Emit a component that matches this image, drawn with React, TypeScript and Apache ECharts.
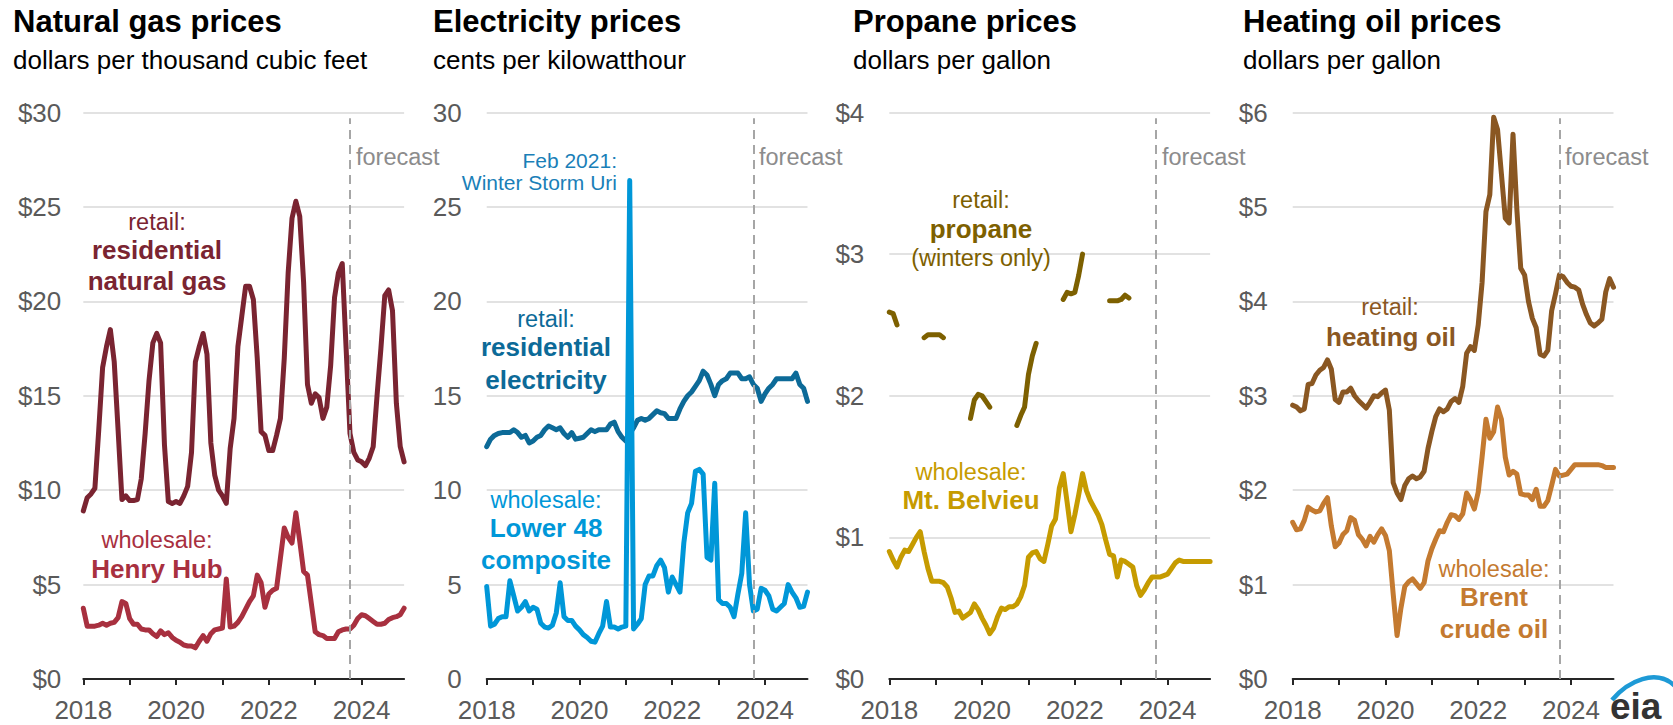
import React, { useEffect, useRef } from "react";
import * as echarts from "echarts";

const START_YEAR = 2018;
const FORECAST_START = 2023.75; // October 2023
const X_MAX = 2018 + 83 / 12;
const YEAR_TICKS = [2018, 2019, 2020, 2021, 2022, 2023, 2024];
const YEAR_LABELS = [2018, 2020, 2022, 2024];

// Natural gas, dollars per thousand cubic feet (monthly, Jan 2018 - Dec 2024)
const natGasResidential = [
  8.9, 9.6, 9.8, 10.1, 13.2, 16.5, 17.6, 18.5, 16.8, 13.2, 9.5, 9.7,
  9.45, 9.45, 9.5, 10.6, 13.0, 15.8, 17.8, 18.3, 17.8, 12.4, 9.4, 9.3,
  9.4, 9.3, 9.7, 10.2, 12.0, 16.8, 17.6, 18.3, 17.2, 12.5, 10.8, 10.0,
  9.7, 9.3, 12.2, 13.8, 17.6, 19.2, 20.8, 20.8, 20.1, 17.0, 13.1, 12.9,
  12.1, 12.1, 12.9, 13.8, 17.0, 21.5, 24.4, 25.3, 24.5, 21.0, 15.6, 14.6,
  15.1, 14.9, 13.8, 14.4, 16.6, 20.2, 21.5, 22.0, 17.5, 13.0, 12.0, 11.6,
  11.5, 11.3, 11.7, 12.3, 15.0, 17.5, 20.3, 20.6, 19.5, 14.6, 12.3, 11.5,
];
const henryHub = [
  3.75, 2.8, 2.8, 2.8, 2.85, 2.95, 2.85, 2.95, 3.0, 3.25, 4.1, 4.0,
  3.2, 2.9, 2.9, 2.65, 2.6, 2.6, 2.4, 2.25, 2.55, 2.35, 2.45, 2.2,
  2.05, 1.95, 1.8, 1.75, 1.75, 1.65, 2.0, 2.3, 2.0, 2.4, 2.6, 2.65,
  2.7, 5.3, 2.75, 2.8, 3.0, 3.3, 3.7, 4.1, 4.4, 5.5, 5.1, 3.8,
  4.5, 4.7, 4.8, 6.4, 8.0, 7.5, 7.2, 8.8, 7.3, 5.7, 5.5, 4.0,
  2.5, 2.35, 2.3, 2.15, 2.15, 2.15, 2.5, 2.6, 2.65, 2.65, 2.85, 3.2,
  3.4, 3.35, 3.2, 3.05, 2.9, 2.9, 2.95, 3.15, 3.25, 3.3, 3.4, 3.75,
];

// Electricity, cents per kilowatthour
const elecResidential = [
  12.3, 12.7, 12.9, 13.0, 13.05, 13.05, 13.05, 13.2, 13.05, 12.8, 12.9, 12.5,
  12.6, 12.8, 12.9, 13.2, 13.4, 13.3, 13.2, 13.3, 13.0, 12.8, 13.05, 12.7,
  12.75, 12.8, 13.0, 13.2, 13.1, 13.2, 13.2, 13.2, 13.5, 13.6, 13.1, 12.8,
  12.6, 13.0, 13.3, 13.7, 13.8, 13.7, 13.8, 14.0, 14.2, 14.1, 14.05, 13.8,
  13.8, 13.8, 14.3, 14.7, 15.0, 15.2, 15.5, 15.8, 16.3, 16.1, 15.6, 15.0,
  15.6, 15.8, 15.9, 16.2, 16.2, 16.2, 15.9, 15.9, 16.0, 15.6, 15.4, 14.7,
  15.1, 15.4, 15.6, 15.9, 15.9, 15.9, 15.9, 15.9, 16.2, 15.6, 15.4, 14.7,
];
const elecWholesale = [
  4.9, 2.8, 2.9, 3.2, 3.3, 3.3, 5.2, 4.4, 3.6, 3.8, 4.1, 3.6,
  3.8, 3.7, 2.95, 2.75, 2.7, 2.85, 3.5, 5.1, 3.3, 3.1, 3.1, 2.8,
  2.6, 2.35, 2.2, 2.0, 1.95, 2.4, 2.8, 4.1, 2.75, 2.75, 2.65, 2.75,
  2.8, 26.4, 2.65, 2.9, 3.2, 5.0, 5.46, 5.46, 6.0, 6.3, 5.9, 4.6,
  5.4, 5.0, 4.6, 7.2, 8.8, 9.3, 11.0, 11.1, 10.85, 6.44, 6.3, 10.36,
  4.2, 4.0, 4.0, 3.8, 3.3, 4.5, 5.6, 8.8, 5.0, 3.6, 3.7, 4.8,
  4.7, 4.4, 3.7, 3.6, 3.8, 4.0, 5.0, 4.6, 4.3, 3.8, 3.85, 4.6,
];

// Propane, dollars per gallon (retail: winters only)
const propaneRetail = [
  2.59, 2.58, 2.5, null, null, null, null, null, null, 2.41, 2.43, 2.43,
  2.43, 2.43, 2.41, null, null, null, null, null, null, 1.84, 1.97, 2.01,
  2.0, 1.96, 1.92, null, null, null, null, null, null, 1.79, 1.86, 1.92,
  2.15, 2.28, 2.37, null, null, null, null, null, null, 2.68, 2.73, 2.72,
  2.73, 2.85, 3.0, null, null, null, null, null, null, 2.67, 2.67, 2.67,
  2.68, 2.71, 2.69, null, null, null, null, null, null, null, null, null,
  null, null, null, null, null, null, null, null, null, null, null, null,
];
const mtBelvieu = [
  0.9, 0.84, 0.79, 0.86, 0.91, 0.9, 0.95, 1.0, 1.04, 0.9, 0.78, 0.69,
  0.69, 0.69, 0.68, 0.65, 0.57, 0.47, 0.48, 0.43, 0.45, 0.47, 0.53, 0.49,
  0.43, 0.38, 0.32, 0.36, 0.44, 0.5, 0.49, 0.51, 0.51, 0.53, 0.58, 0.66,
  0.86, 0.89, 0.9, 0.85, 0.83, 0.95, 1.08, 1.13, 1.35, 1.45, 1.25, 1.04,
  1.16, 1.3, 1.45, 1.33, 1.26, 1.21, 1.16, 1.09, 0.98, 0.88, 0.87, 0.72,
  0.84, 0.83, 0.81, 0.79, 0.66, 0.59, 0.63, 0.68, 0.72, 0.72, 0.72, 0.73,
  0.74, 0.78, 0.82, 0.84, 0.83, 0.83, 0.83, 0.83, 0.83, 0.83, 0.83, 0.83,
];

// Heating oil, dollars per gallon
const heatingOilRetail = [
  2.9, 2.88, 2.84, 2.86, 3.12, 3.13, 3.22, 3.27, 3.3, 3.38, 3.28, 2.96,
  2.93, 3.04, 3.04, 3.08, 3.0, 2.95, 2.91, 2.87, 2.93, 3.0, 2.99, 3.03,
  3.06, 2.85, 2.08, 1.97, 1.9, 2.05, 2.12, 2.15, 2.12, 2.14, 2.2, 2.44,
  2.62, 2.78, 2.86, 2.83, 2.86, 2.94, 2.97, 2.93, 3.1, 3.45, 3.52, 3.48,
  3.75, 4.2, 4.95, 5.13, 5.95, 5.82, 5.35, 4.88, 4.83, 5.77, 4.97, 4.35,
  4.28, 4.0, 3.82, 3.72, 3.44, 3.42, 3.48, 3.9, 4.08, 4.28, 4.26, 4.2,
  4.16, 4.15, 4.12, 3.97, 3.86, 3.77, 3.74, 3.77, 3.81, 4.1, 4.24, 4.15,
];
const brentCrude = [
  1.66, 1.58, 1.59, 1.68, 1.82, 1.79, 1.77, 1.78, 1.86, 1.92, 1.62, 1.4,
  1.44, 1.53, 1.57, 1.71, 1.68, 1.53, 1.48, 1.41, 1.51, 1.45, 1.53, 1.59,
  1.52, 1.36, 0.9, 0.46, 0.75, 0.98, 1.03, 1.06, 1.01, 0.96, 1.02, 1.25,
  1.38, 1.48, 1.57, 1.56, 1.66, 1.74, 1.73, 1.69, 1.75, 1.97, 1.9, 1.8,
  1.98, 2.35, 2.75, 2.55, 2.62, 2.88, 2.75, 2.35, 2.16, 2.2, 2.17, 1.96,
  1.95, 1.95, 1.9, 2.01, 1.83, 1.83, 1.89, 2.05, 2.22, 2.15, 2.16, 2.17,
  2.22, 2.27, 2.27, 2.27, 2.27, 2.27, 2.27, 2.27, 2.26, 2.24, 2.24, 2.24,
];

const FONT = '"Liberation Sans", Arial, Helvetica, sans-serif';

const C = {
  gasRetail: "#7a2431",
  gasWholesale: "#a8303f",
  elecRetail: "#0c6a98",
  elecWholesale: "#0097d8",
  stormText: "#1a7fb8",
  propRetail: "#7d6000",
  propWholesale: "#c69b00",
  oilRetail: "#8a5722",
  oilWholesale: "#c47a30",
};

type Panel = {
  title: string;
  subtitle: string;
  yMax: number;
  yInterval: number;
  prefix: string;
  labelMargin: number;
  series: { name: string; values: (number | null)[]; color: string }[];
};

const panels: Panel[] = [
  {
    title: "Natural gas prices",
    subtitle: "dollars per thousand cubic feet",
    yMax: 30, yInterval: 5, prefix: "$", labelMargin: 22,
    series: [
      { name: "residential natural gas", values: natGasResidential, color: C.gasRetail },
      { name: "Henry Hub", values: henryHub, color: C.gasWholesale },
    ],
  },
  {
    title: "Electricity prices",
    subtitle: "cents per kilowatthour",
    yMax: 30, yInterval: 5, prefix: "", labelMargin: 25,
    series: [
      { name: "residential electricity", values: elecResidential, color: C.elecRetail },
      { name: "Lower 48 composite", values: elecWholesale, color: C.elecWholesale },
    ],
  },
  {
    title: "Propane prices",
    subtitle: "dollars per gallon",
    yMax: 4, yInterval: 1, prefix: "$", labelMargin: 25,
    series: [
      { name: "propane", values: propaneRetail, color: C.propRetail },
      { name: "Mt. Belvieu", values: mtBelvieu, color: C.propWholesale },
    ],
  },
  {
    title: "Heating oil prices",
    subtitle: "dollars per gallon",
    yMax: 6, yInterval: 1, prefix: "$", labelMargin: 25,
    series: [
      { name: "heating oil", values: heatingOilRetail, color: C.oilRetail },
      { name: "Brent crude oil", values: brentCrude, color: C.oilWholesale },
    ],
  },
];

const GRID_LEFTS = [83.3, 486.7, 889.3, 1292.7];
const GRID_WIDTH = 320.8;
const GRID_TOP = 112.5;
const GRID_HEIGHT = 566.5;
const TITLE_X = [13, 433, 853, 1243];

const toXY = (vals: (number | null)[]) =>
  vals.map((v, i) => [START_YEAR + i / 12, v]);

type Note = { t: string; x: number; y: number; c: string; b?: boolean; a?: string; s?: number };
const notes: Note[] = [
  { t: "retail:", x: 157, y: 222, c: C.gasRetail },
  { t: "residential", x: 157, y: 250, c: C.gasRetail, b: true },
  { t: "natural gas", x: 157, y: 281, c: C.gasRetail, b: true },
  { t: "wholesale:", x: 157, y: 540, c: C.gasWholesale },
  { t: "Henry Hub", x: 157, y: 569, c: C.gasWholesale, b: true },
  { t: "Feb 2021:", x: 617, y: 160, c: C.stormText, a: "right", s: 21 },
  { t: "Winter Storm Uri", x: 617, y: 182, c: C.stormText, a: "right", s: 21 },
  { t: "retail:", x: 546, y: 319, c: C.elecRetail },
  { t: "residential", x: 546, y: 347, c: C.elecRetail, b: true },
  { t: "electricity", x: 546, y: 380, c: C.elecRetail, b: true },
  { t: "wholesale:", x: 546, y: 500, c: C.elecWholesale },
  { t: "Lower 48", x: 546, y: 528, c: C.elecWholesale, b: true },
  { t: "composite", x: 546, y: 560, c: C.elecWholesale, b: true },
  { t: "retail:", x: 981, y: 200, c: C.propRetail },
  { t: "propane", x: 981, y: 229, c: C.propRetail, b: true },
  { t: "(winters only)", x: 981, y: 258, c: C.propRetail },
  { t: "wholesale:", x: 971, y: 472, c: C.propWholesale },
  { t: "Mt. Belvieu", x: 971, y: 500, c: C.propWholesale, b: true },
  { t: "retail:", x: 1390, y: 307, c: C.oilRetail },
  { t: "heating oil", x: 1391, y: 337, c: C.oilRetail, b: true },
  { t: "wholesale:", x: 1494, y: 569, c: C.oilWholesale },
  { t: "Brent", x: 1494, y: 597, c: C.oilWholesale, b: true },
  { t: "crude oil", x: 1494, y: 629, c: C.oilWholesale, b: true },
];
const FORECAST_TEXT_X = [356, 759, 1162, 1565];

export default function App() {
  const ref = useRef<HTMLDivElement>(null);

  useEffect(() => {
    if (!ref.current) return;
    const chart = echarts.init(ref.current, undefined, { renderer: "svg" });

    const grid = panels.map((_, i) => ({
      left: GRID_LEFTS[i],
      top: GRID_TOP,
      width: GRID_WIDTH,
      height: GRID_HEIGHT,
      containLabel: false,
    }));

    const xAxis = panels.map((_, i) => ({
      type: "value",
      gridIndex: i,
      min: START_YEAR,
      max: X_MAX,
      interval: 1,
      axisLine: { show: true, onZero: false, lineStyle: { color: "#262626", width: 2 } },
      axisTick: {
        show: true,
        customValues: YEAR_TICKS,
        length: 6,
        lineStyle: { color: "#262626", width: 2 },
      },
      axisLabel: {
        customValues: YEAR_LABELS,
        formatter: (v: number) => String(Math.round(v)),
        color: "#5a5a5a",
        fontSize: 26,
        fontFamily: FONT,
        margin: 18,
      },
      splitLine: { show: false },
    }));

    const yAxis = panels.map((p, i) => ({
      type: "value",
      gridIndex: i,
      min: 0,
      max: p.yMax,
      interval: p.yInterval,
      axisLine: { show: false },
      axisTick: { show: false },
      axisLabel: {
        formatter: (v: number) => p.prefix + v,
        color: "#5a5a5a",
        fontSize: 26,
        fontFamily: FONT,
        margin: p.labelMargin,
      },
      splitLine: { show: true, lineStyle: { color: "#d9d9d9", width: 1.5 } },
    }));

    const series: any[] = [];
    panels.forEach((p, i) => {
      p.series.forEach((s, j) => {
        series.push({
          type: "line",
          name: s.name,
          xAxisIndex: i,
          yAxisIndex: i,
          data: toXY(s.values),
          showSymbol: false,
          symbol: "none",
          connectNulls: false,
          lineStyle: { color: s.color, width: 5, join: "round", cap: "round" },
          itemStyle: { color: s.color },
          z: 3 + j,
          markLine:
            j === 0
              ? {
                  silent: true,
                  symbol: "none",
                  label: { show: false },
                  lineStyle: { color: "#a6a6a6", width: 2, type: [9, 6] },
                  data: [
                    [
                      { coord: [FORECAST_START, 0] },
                      { coord: [FORECAST_START, p.yMax * 0.99] },
                    ],
                  ],
                }
              : undefined,
        });
      });
    });

    const graphics: any[] = [];
    panels.forEach((p, i) => {
      graphics.push({
        type: "text",
        x: TITLE_X[i],
        y: 21,
        style: {
          text: p.title,
          font: `bold 31px ${FONT}`,
          fill: "#000",
          textAlign: "left",
          textVerticalAlign: "middle",
        },
      });
      graphics.push({
        type: "text",
        x: TITLE_X[i],
        y: 60,
        style: {
          text: p.subtitle,
          font: `26px ${FONT}`,
          fill: "#000",
          textAlign: "left",
          textVerticalAlign: "middle",
        },
      });
      graphics.push({
        type: "text",
        x: FORECAST_TEXT_X[i],
        y: 157,
        style: {
          text: "forecast",
          font: `23.5px ${FONT}`,
          fill: "#8c8c8c",
          textAlign: "left",
          textVerticalAlign: "middle",
        },
      });
    });
    notes.forEach((n) => {
      graphics.push({
        type: "text",
        x: n.x,
        y: n.y,
        z: 10,
        style: {
          text: n.t,
          font: `${n.b ? "bold " : ""}${n.s ?? (n.b ? 26 : 23.5)}px ${FONT}`,
          fill: n.c,
          textAlign: n.a ?? "center",
          textVerticalAlign: "middle",
        },
      });
    });
    // eia logo
    graphics.push({
      type: "bezierCurve",
      shape: { x1: 1612, y1: 700, cpx1: 1628, cpy1: 681, cpx2: 1656, cpy2: 668, x2: 1675, y2: 686 },
      style: { stroke: "#1e9ad6", lineWidth: 4.5, fill: "none" },
    });
    graphics.push({
      type: "text",
      x: 1610,
      y: 706,
      style: {
        text: "eia",
        font: `bold 37px ${FONT}`,
        fill: "#333333",
        textAlign: "left",
        textVerticalAlign: "middle",
      },
    });

    chart.setOption({
      animation: false,
      backgroundColor: "#ffffff",
      grid,
      xAxis,
      yAxis,
      series,
      graphic: { elements: graphics },
    });

    return () => chart.dispose();
  }, []);

  return (
    <div
      ref={ref}
      style={{ position: "absolute", left: 0, top: 0, width: 1673, height: 725 }}
    />
  );
}
